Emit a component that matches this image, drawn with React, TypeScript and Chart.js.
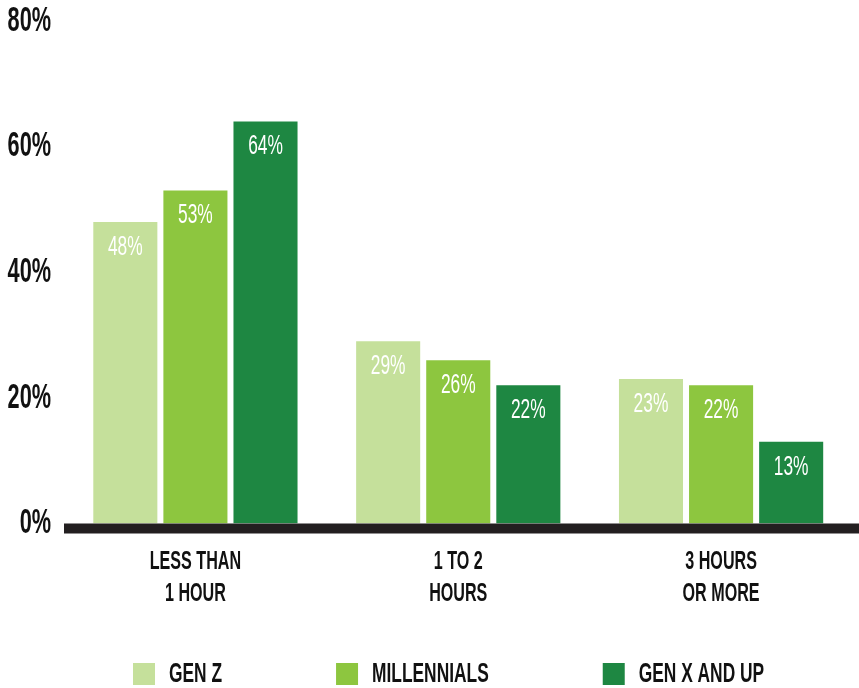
import React, { useEffect, useRef } from 'react';
import { Chart, registerables } from 'chart.js';

Chart.register(...registerables);

// ---- data ----
const categories = [
  ['LESS THAN', '1 HOUR'],
  ['1 TO 2', 'HOURS'],
  ['3 HOURS', 'OR MORE'],
];
const seriesNames = ['GEN Z', 'MILLENNIALS', 'GEN X AND UP'];
const genZ = [48, 29, 23];
const millennials = [53, 26, 22];
const genXAndUp = [64, 22, 13];
const seriesColors = ['#C5E09B', '#8DC63F', '#1E8742'];
const yMin = 0;
const yMax = 80;
const yStep = 20;

// ---- style ----
const FONT = "'Liberation Sans', Arial, sans-serif";
const SX = 0.62; // horizontal condensing of all canvas text
const TEXT = '#111111';
const BASELINE = '#231F20';
const LEGEND_PAD = 114;

const baselinePlugin = {
  id: 'baseline',
  afterDatasetsDraw(chart: any) {
    const { ctx, chartArea } = chart;
    const y0 = chart.scales.y.getPixelForValue(0);
    ctx.save();
    ctx.fillStyle = BASELINE;
    ctx.fillRect(chartArea.left, y0, chart.width - chartArea.left, 10);
    ctx.restore();
  },
};

const barLabelPlugin = {
  id: 'barLabels',
  afterDatasetsDraw(chart: any) {
    const ctx = chart.ctx;
    ctx.save();
    ctx.font = `normal 28px ${FONT}`;
    ctx.fillStyle = '#FFFFFF';
    ctx.textAlign = 'center';
    ctx.textBaseline = 'middle';
    chart.data.datasets.forEach((ds: any, i: number) => {
      const meta = chart.getDatasetMeta(i);
      meta.data.forEach((bar: any, j: number) => {
        ctx.fillText(`${ds.data[j]}%`, bar.x, bar.y + 25);
      });
    });
    ctx.restore();
  },
};

const legendPlacePlugin = {
  id: 'legendPlace',
  beforeInit(chart: any) {
    const legend = chart.legend;
    if (!legend) return;
    const origFit = legend.fit;
    legend.fit = function () {
      const mw = this.maxWidth;
      this.maxWidth = 5000;
      origFit.call(this);
      this.maxWidth = mw;
      this.width = mw;
      this.height = 64.5;
    };
  },
  afterLayout(chart: any) {
    const legend = chart.legend;
    if (!legend) return;
    legend.left = 133 - LEGEND_PAD;
    legend.right = 5000;
    legend.top = 660 - LEGEND_PAD;
    legend.bottom = chart.height;
  },
};

export default function App() {
  const canvasRef = useRef<HTMLCanvasElement | null>(null);

  useEffect(() => {
    const canvas = canvasRef.current;
    if (!canvas) return;
    const ctx = canvas.getContext('2d') as any;
    // condense text horizontally (condensed display face)
    const origFill = ctx.fillText.bind(ctx);
    const origMeasure = ctx.measureText.bind(ctx);
    ctx.fillText = (text: string, x: number, y: number, maxWidth?: number) => {
      ctx.save();
      ctx.translate(x, y);
      ctx.scale(SX, 1);
      if (maxWidth === undefined) origFill(text, 0, 0);
      else origFill(text, 0, 0, maxWidth / SX);
      ctx.restore();
    };
    ctx.measureText = (text: string) => {
      const m = origMeasure(text);
      return { width: m.width * SX, actualBoundingBoxAscent: m.actualBoundingBoxAscent, actualBoundingBoxDescent: m.actualBoundingBoxDescent };
    };

    const seriesData = [genZ, millennials, genXAndUp];
    const chart = new Chart(canvas, {
      type: 'bar',
      data: {
        labels: categories,
        datasets: seriesNames.map((name, i) => ({
          label: name,
          data: seriesData[i],
          backgroundColor: seriesColors[i],
          borderWidth: 0,
          barPercentage: 0.914,
          categoryPercentage: 0.8,
        })),
      },
      options: {
        responsive: false,
        animation: false,
        events: [],
        layout: { padding: { top: 21, right: 6.5, bottom: 0, left: 0 } },
        plugins: {
          tooltip: { enabled: false },
          legend: {
            position: 'bottom',
            align: 'start',
            labels: {
              boxWidth: 22,
              boxHeight: 22,
              padding: LEGEND_PAD,
              color: TEXT,
              font: { family: FONT, size: 28, weight: 'bold' },
            },
          },
        },
        scales: {
          x: {
            grid: { display: false, drawTicks: false },
            border: { display: false },
            ticks: {
              color: TEXT,
              padding: 23,
              maxRotation: 0,
              autoSkip: false,
              font: { family: FONT, size: 26, weight: 'bold', lineHeight: 1.21 },
            },
            afterFit: (scale: any) => {
              scale.height = 100;
              scale.paddingLeft = 0;
              scale.paddingRight = 0;
            },
          },
          y: {
            min: yMin,
            max: yMax,
            grid: { display: false, drawTicks: false },
            border: { display: false },
            ticks: {
              stepSize: yStep,
              color: TEXT,
              padding: 13,
              font: { family: FONT, size: 35, weight: 'bold', lineHeight: 1.2 },
              callback: (v: any) => `${v}%`,
            },
            afterFit: (scale: any) => {
              scale.width = 64;
              scale.paddingTop = 0;
              scale.paddingBottom = 0;
            },
          },
        },
      },
      plugins: [baselinePlugin, barLabelPlugin, legendPlacePlugin],
    } as any);

    return () => {
      chart.destroy();
    };
  }, []);

  return (
    <div style={{ position: 'absolute', left: 0, top: 0, width: 859, height: 688, background: '#fff' }}>
      <canvas ref={canvasRef} width={859} height={688} style={{ display: 'block' }} />
    </div>
  );
}
